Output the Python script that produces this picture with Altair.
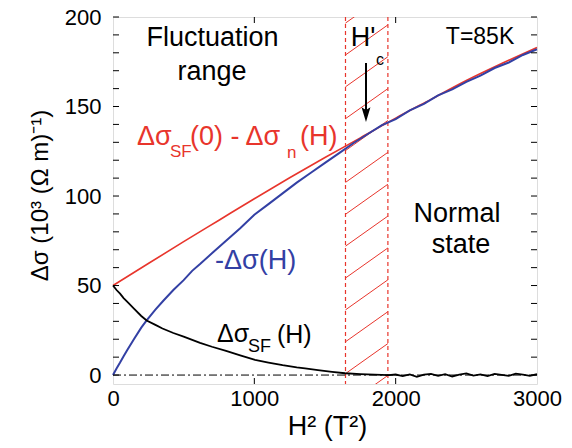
import altair as alt
import pandas as pd

# ---- data ----
red_x = [0, 250, 500, 750, 1000, 1250, 1500, 1750, 2000, 2250, 2500, 2750, 3000]
red_y = [50, 62.3, 74.5, 86.5, 98.5, 110.2, 121.5, 132.5, 143.5, 154, 164.5, 174, 183]

blue_x = [0, 25, 50, 75, 100, 150, 200, 238, 300, 356, 427, 500, 560, 616, 700, 800, 900,
          1000, 1100, 1200, 1300, 1400, 1500, 1600, 1700, 1800, 1900, 2000, 2100, 2200,
          2300, 2400, 2500, 2600, 2700, 2800, 2900, 3000]
blue_y = [0, 3.7, 7, 10.5, 13.8, 20.3, 26.5, 30.5, 36.5, 41.5, 47.5, 53, 58.2, 62, 68, 75, 82,
          89.5, 95.5, 101.5, 107.5, 113, 118.5, 124, 129.5, 134.5, 139.5, 143, 147.8, 151.5,
          156.2, 159.6, 163.8, 167.2, 171.5, 174.6, 178.8, 182]

black_x = [0, 25, 50, 75, 100, 150, 200, 238, 300, 350, 427, 500, 616, 700, 800, 900,
           1005, 1100, 1200, 1300, 1359, 1450, 1550, 1642, 1750, 1850, 1950,
           2000, 2050, 2100, 2150, 2200, 2250, 2300, 2350, 2400, 2450, 2500, 2550,
           2600, 2650, 2700, 2750, 2800, 2850, 2900, 2950, 3000]
black_y = [50, 47.5, 45.5, 43, 41, 37, 33, 30.5, 28, 26, 23.5, 21.5, 18, 15.8, 13.5, 11,
           8.5, 7, 5.5, 4.3, 3.7, 2.8, 1.8, 1, 0.5, 0.2, 0,
           0.3, -0.6, 0.4, -1.0, 0.2, 0.7, -0.4, 0.5, -0.8, 0.3, 0.9, -0.3,
           0.4, -0.6, 0.6, 0.1, -0.5, 0.8, 0.2, -0.4, 0.5]

x_labels = [0, 1000, 2000, 3000]
y_labels = [0, 50, 100, 150, 200]
y_minor = list(range(0, 201, 10))
x_minor = [1000, 2000]

band_left, band_right = 1645, 1945
hatch_start = [-17, 0.8, 18.6, 36.4, 54.2, 72, 89.8, 107.6, 125.4, 143.2, 161, 178.8, 196.6]
hatch_rise = 16.8

RED = "#e8352c"
BLUE = "#3340a4"
FONT = "Liberation Sans"

W, H = 424, 367
xs = alt.Scale(domain=[0, 3000], nice=False, zero=False)
ys = alt.Scale(domain=[-5, 200], nice=False, zero=False)

red_df = pd.DataFrame({"x": red_x, "y": red_y})
blue_df = pd.DataFrame({"x": blue_x, "y": blue_y})
black_df = pd.DataFrame({"x": black_x, "y": black_y})
hatch_df = pd.DataFrame({"y0": hatch_start})
hatch_df["y1"] = hatch_df["y0"] + hatch_rise
hatch_df["x0"] = band_left
hatch_df["x1"] = band_right

base_x = alt.X("x:Q", scale=xs, title="H² (T²)",
               axis=alt.Axis(values=x_labels, format="d", ticks=False, tickSize=0, domain=False,
                             grid=False, labelFont=FONT, labelFontSize=22, labelPadding=4,
                             labelFlush=False, labelColor="black", titleFont=FONT,
                             titleFontSize=27, titleFontWeight="normal", titleX=214, titleY=42,
                             titleBaseline="middle", titleAlign="center", titleColor="black"))
base_y = alt.Y("y:Q", scale=ys, title="Δσ (10³ (Ω m)⁻¹)",
               axis=alt.Axis(values=y_labels, format="d", ticks=False, tickSize=0, domain=False,
                             grid=False, labelFont=FONT, labelFontSize=22, labelPadding=12,
                             labelFlush=False, labelColor="black", titleFont=FONT,
                             titleFontSize=24, titleFontWeight="normal", titleX=-73, titleY=178,
                             titleBaseline="middle", titleAlign="center", titleAngle=-90,
                             titleColor="black"))

hatch = alt.Chart(hatch_df).mark_rule(color=RED, strokeWidth=1, clip=True).encode(
    x=alt.X("x0:Q", scale=xs), x2="x1:Q", y=alt.Y("y0:Q", scale=ys), y2="y1:Q")

vlines = alt.Chart(pd.DataFrame({"x": [band_left, band_right]})).mark_rule(
    color=RED, strokeWidth=1.2, strokeDash=[4, 3]).encode(x=alt.X("x:Q", scale=xs))

zero_line = alt.Chart(pd.DataFrame({"y": [0]})).mark_rule(
    color="black", strokeWidth=1, strokeDash=[8, 3, 2, 3]).encode(y=alt.Y("y:Q", scale=ys))

red_line = alt.Chart(red_df).mark_line(color=RED, strokeWidth=1.6, interpolate="monotone").encode(
    x=base_x, y=base_y)
blue_line = alt.Chart(blue_df).mark_line(color=BLUE, strokeWidth=2).encode(
    x=alt.X("x:Q", scale=xs), y=alt.Y("y:Q", scale=ys))
black_line = alt.Chart(black_df).mark_line(color="black", strokeWidth=1.8).encode(
    x=alt.X("x:Q", scale=xs), y=alt.Y("y:Q", scale=ys))

# inward ticks
ydf = pd.DataFrame({"y": y_minor})
xdf = pd.DataFrame({"x": x_minor})
tick_l = alt.Chart(ydf).mark_rule(color="black", strokeWidth=1).encode(
    y=alt.Y("y:Q", scale=ys), x=alt.value(0), x2=alt.value(6))
tick_r = alt.Chart(ydf).mark_rule(color="black", strokeWidth=1).encode(
    y=alt.Y("y:Q", scale=ys), x=alt.value(W - 6), x2=alt.value(W))
tick_b = alt.Chart(xdf).mark_rule(color="black", strokeWidth=1).encode(
    x=alt.X("x:Q", scale=xs), y=alt.value(H - 6), y2=alt.value(H))
tick_t = alt.Chart(xdf).mark_rule(color="black", strokeWidth=1).encode(
    x=alt.X("x:Q", scale=xs), y=alt.value(0), y2=alt.value(6))


def txt(s, x, y, size=22, color="black", align="left"):
    return alt.Chart(pd.DataFrame({"t": [s]})).mark_text(
        font=FONT, fontSize=size, color=color, align=align, baseline="middle").encode(
        x=alt.datum(x, scale=xs), y=alt.datum(y, scale=ys), text="t:N")


texts = [
    txt("Fluctuation", 704, 188.3, 27, align="center"),
    txt("range", 700, 169.3, 27, align="center"),
    txt("T=85K", 2597, 188.8, 23, align="center"),
    txt("H'", 1769, 188, 27, align="center"),
    txt("c", 1889, 176, 16, align="center"),
    txt("Δσ", 170, 133, 27, RED),
    txt("SF", 403, 124.6, 17, RED),
    txt("(0) - Δσ", 545, 133, 27, RED),
    txt("n", 1231, 124.3, 17, RED),
    txt("(H)", 1323, 133, 27, RED),
    txt("-Δσ(H)", 722, 63.7, 27, BLUE),
    txt("Δσ", 736, 23.2, 25),
    txt("SF", 955, 15.4, 18),
    txt("(H)", 1160, 22.6, 25),
    txt("Normal", 2434, 90, 27, align="center"),
    txt("state", 2462, 72.6, 27, align="center"),
]

arrow_shaft = alt.Chart(pd.DataFrame({"a": [0]})).mark_rule(color="black", strokeWidth=2).encode(
    x=alt.datum(1790, scale=xs), y=alt.datum(174.3, scale=ys), y2=alt.datum(148))
arrow_head = alt.Chart(pd.DataFrame({"a": [0]})).mark_point(
    shape="M-0.6,-1L0,1L0.6,-1L0,-0.6Z", filled=True, color="black", size=220, opacity=1).encode(
    x=alt.datum(1790, scale=xs), y=alt.datum(145.5, scale=ys))

chart = alt.layer(
    hatch, vlines, zero_line, red_line, blue_line, black_line,
    tick_l, tick_r, tick_b, tick_t, arrow_shaft, arrow_head, *texts
).properties(
    width=W, height=H,
    autosize=alt.AutoSizeParams(type="none"),
    padding={"left": 113, "top": 17, "right": 35, "bottom": 64},
).configure_view(stroke="black", strokeWidth=1.5).configure(background="white")

chart.save("out.html", embed_options={"renderer": "svg", "actions": False})
